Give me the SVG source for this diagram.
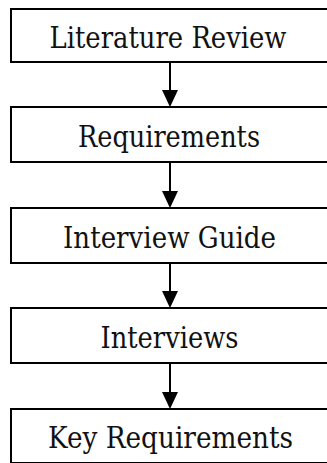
<svg xmlns="http://www.w3.org/2000/svg" width="327" height="463" viewBox="0 0 327 463">
<defs>
<style>
.box{fill:#fff;stroke:#000;stroke-width:2}
.lbl{font-family:"DejaVu Serif",serif;font-size:30px;fill:#111;text-anchor:middle}
.con{stroke:#000;stroke-width:2;fill:none}
</style>
</defs>
<rect width="327" height="463" fill="#fff"/>
<g id="connectors">
<path class="con" d="M170,62 V90"/><path d="M162,90 L178,90 L170,107 Z"/>
<path class="con" d="M170,162 V191"/><path d="M162,191 L178,191 L170,208 Z"/>
<path class="con" d="M170,263 V291"/><path d="M162,291 L178,291 L170,308 Z"/>
<path class="con" d="M170,363 V392"/><path d="M162,392 L178,392 L170,409 Z"/>
</g>
<g id="n1"><rect class="box" x="11" y="9" width="400" height="53"/><text class="lbl" x="168" y="48" textLength="237" lengthAdjust="spacingAndGlyphs">Literature Review</text></g>
<g id="n2"><rect class="box" x="11" y="107" width="400" height="55"/><text class="lbl" x="169" y="147" textLength="182" lengthAdjust="spacingAndGlyphs">Requirements</text></g>
<g id="n3"><rect class="box" x="11" y="208" width="400" height="55"/><text class="lbl" x="169.5" y="248" textLength="213" lengthAdjust="spacingAndGlyphs">Interview Guide</text></g>
<g id="n4"><rect class="box" x="11" y="308" width="400" height="55"/><text class="lbl" x="169.5" y="348" textLength="138" lengthAdjust="spacingAndGlyphs">Interviews</text></g>
<g id="n5"><rect class="box" x="11" y="409" width="400" height="54"/><text class="lbl" x="170.5" y="448" textLength="245" lengthAdjust="spacingAndGlyphs">Key Requirements</text></g>
</svg>
